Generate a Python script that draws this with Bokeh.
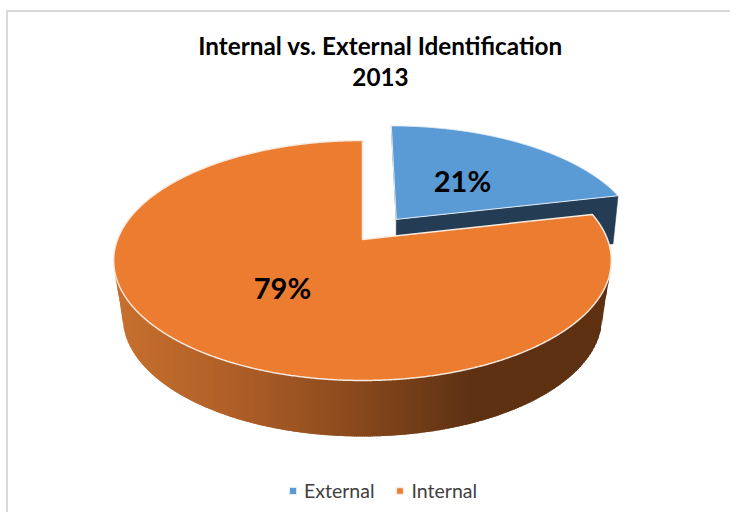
import math
import numpy as np
from bokeh.plotting import figure
from bokeh.models import Range1d, Legend, LegendItem
from bokeh.core.properties import value
from bokeh.embed import file_html
from bokeh.resources import INLINE

categories = ["External", "Internal"]
shares = [21.4, 78.6]
labels = ["21%", "79%"]
title_lines = ["Internal vs. External Identification", "2013"]
colors = ["#5B9BD5", "#EC7C30"]
wall_dark = "#243D55"

W, H = 730, 512
FONT = "Lato"

p = figure(width=W, height=H, x_range=Range1d(0, W), y_range=Range1d(H, 0),
           output_backend="svg", toolbar_location=None, min_border=0)
p.axis.visible = False
p.grid.visible = False
p.outline_line_color = None

# frame of the chart area
p.line([6.5, 6.5, W], [H, 10.5, 10.5], line_color="#D9D9D9", line_width=2)

# perspective view of the pie's plane
AX, AY, SX, SY, K = 362, 239, 245, 116.3, 0.175


def project(theta=None, off=(0.0, 0.0)):
    """Screen point of a rim point at theta degrees (or the centre), offset in the pie's plane."""
    u, v = off
    if theta is not None:
        u += math.cos(math.radians(theta))
        v += math.sin(math.radians(theta))
    d = 1 + K * v
    return AX + SX * u / d, AY - SY * v / d


def arc(a0, a1, off=(0.0, 0.0), n=360):
    return [project(a0 + (a1 - a0) * i / n, off) for i in range(n + 1)]


frac_ext = shares[0] / sum(shares)
split = 90 - 360 * frac_ext          # rim angle of the boundary between the slices
bisector = math.radians(90 - 180 * frac_ext)
EXPLODE = 0.228
off = (EXPLODE * math.cos(bisector), EXPLODE * math.sin(bisector))

# ---- External slice: cut wall ----
bl = arc(90, split, off)
apex = project(None, off)
cx, cy = bl[-1]
p.patch([apex[0], cx, cx - 5, apex[0]], [apex[1], cy, cy + 48, apex[1] + 49],
        fill_color=wall_dark, line_color=wall_dark, line_width=0.5)
p.line([bl[0][0], apex[0]], [bl[0][1], apex[1]], line_color="#6E7F90", line_width=1.2)

# ---- Internal slice: side wall in gradient strips ----
stops = [(113, (200, 112, 46)), (250, (170, 92, 38)), (360, (135, 72, 28)),
         (470, (94, 49, 19)), (611, (94, 49, 19))]


def shade(x):
    for (x0, c0), (x1, c1) in zip(stops, stops[1:]):
        if x <= x1:
            t = max(0, (x - x0) / (x1 - x0))
            return "#%02x%02x%02x" % tuple(round(a + (b - a) * t) for a, b in zip(c0, c1))
    return "#%02x%02x%02x" % stops[-1][1]


# front of the rim, between its left-most and right-most points
rim = np.array(arc(-170, -10, n=720))
t = np.radians(np.linspace(180, 0, 361))
# the wall's silhouette runs straight from the rim down to the base ellipse
base_x = [115] + list(362 + 240 * np.cos(t)) + [609]
base_y = [278] + list(316 + 120 * np.sin(t)) + [276]

strip = 2
strip_xs, strip_ys, strip_cs = [], [], []
for x in np.arange(115, 609, strip):
    x1 = min(x + strip + 1.5, 609)
    strip_xs.append([x, x1, x1, x])
    strip_ys.append([np.interp(x, rim[:, 0], rim[:, 1]) - 2, np.interp(x1, rim[:, 0], rim[:, 1]) - 2,
                     np.interp(x1, base_x, base_y), np.interp(x, base_x, base_y)])
    strip_cs.append(shade(x))
p.patches(strip_xs, strip_ys, fill_color=strip_cs, line_color=None)

# ---- tops ----
r_ext = p.patch([q[0] for q in bl] + [apex[0]], [q[1] for q in bl] + [apex[1]],
                fill_color=colors[0], line_color="#E4EEF7", line_width=1)
int_rim = arc(90, 90 + 360 * (1 - frac_ext), n=900)
r_int = p.patch([q[0] for q in int_rim] + [AX], [q[1] for q in int_rim] + [AY],
                fill_color=colors[1], line_color="#F9EBE0", line_width=1.5)

# ---- percentage labels ----
p.text([462, 282], [180, 287], text=labels, text_font=value(FONT), text_font_style="bold",
       text_font_size="29px", text_color="#000000", text_align="center", text_baseline="middle")

# ---- title ----
p.text([380, 380], [45, 76], text=title_lines, text_font=value(FONT), text_font_style="bold",
       text_font_size="24.3px", text_color="#000000", text_align="center", text_baseline="middle")

# ---- legend ----
legend = Legend(items=[LegendItem(label=categories[0], renderers=[r_ext]),
                       LegendItem(label=categories[1], renderers=[r_int])],
                orientation="horizontal", location=(288, 10), border_line_color=None,
                background_fill_alpha=0, glyph_width=9, glyph_height=9, label_text_font=FONT,
                label_text_font_size="19.5px", label_text_color="#404040", spacing=21,
                label_standoff=7, padding=0, margin=0)
p.add_layout(legend, "center")

open("out.html", "w").write(file_html(p, INLINE))
